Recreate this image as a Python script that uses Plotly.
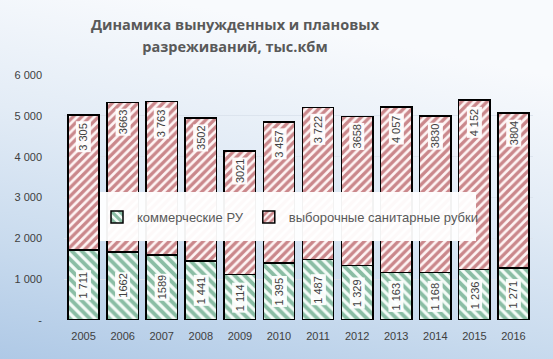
import base64
import plotly.graph_objects as go

years = ["2005", "2006", "2007", "2008", "2009", "2010", "2011", "2012", "2013", "2014", "2015", "2016"]
commercial = [1711, 1662, 1589, 1441, 1114, 1395, 1487, 1329, 1163, 1168, 1236, 1271]
sanitary = [3305, 3663, 3763, 3502, 3021, 3457, 3722, 3658, 4057, 3830, 4152, 3804]
commercial_labels = ["1 711", "1662", "1589", "1 441", "1 114", "1 395", "1 487", "1 329", "1 163", "1 168", "1 236", "1 271"]
sanitary_labels = ["3 305", "3663", "3 763", "3502", "3021", "3 457", "3 722", "3658", "4 057", "3830", "4 152", "3804"]
y_tickvals = [0, 1000, 2000, 3000, 4000, 5000, 6000]
y_ticktext = ["-", "1 000", "2 000", "3 000", "4 000", "5 000", "6 000"]
series_names = ["коммерческие РУ", "выборочные санитарные рубки"]
title_lines = ["Динамика вынужденных и плановых", "разреживаний, тыс.кбм"]

W, H = 553, 359
ML, MR, MT, MB = 64, 20, 75, 39
pw = W - ML - MR
ph = H - MT - MB

fig = go.Figure()
fig.add_trace(go.Bar(
    x=years, y=commercial, name=series_names[0],
    marker=dict(color="#F4FBF7", line=dict(color="#000000", width=1.5),
                pattern=dict(shape="\\", fgcolor="#1F7F52", bgcolor="#F4FBF7", size=7, solidity=0.55)),
))
fig.add_trace(go.Bar(
    x=years, y=sanitary, name=series_names[1],
    marker=dict(color="#FEF4F4", line=dict(color="#000000", width=1.5),
                pattern=dict(shape="/", fgcolor="#961A22", bgcolor="#FEF4F4", size=6, solidity=0.55)),
))

annotations = []
for i, (c, s, cl, sl) in enumerate(zip(commercial, sanitary, commercial_labels, sanitary_labels)):
    annotations.append(dict(x=i, y=c / 2, text=cl, showarrow=False, textangle=-90,
                            xref="x", yref="y", yanchor="middle",
                            font=dict(family="Liberation Sans", size=11, color="#404040"),
                            bgcolor="rgba(255,255,255,0.93)", borderpad=1))
    annotations.append(dict(x=i, y=c + s, text=sl, showarrow=False, textangle=-90,
                            xref="x", yref="y", yanchor="top", yshift=-6,
                            font=dict(family="Liberation Sans", size=11, color="#404040"),
                            bgcolor="rgba(255,255,255,0.93)", borderpad=1))

svg = ('<svg xmlns="http://www.w3.org/2000/svg" width="100" height="100" preserveAspectRatio="none">'
       '<defs><linearGradient id="g" x1="0.3" y1="0" x2="0" y2="1">'
       '<stop offset="0" stop-color="#F8FAFD"/>'
       '<stop offset="0.35" stop-color="#E3ECF6"/>'
       '<stop offset="0.7" stop-color="#C9DBEE"/>'
       '<stop offset="1" stop-color="#AFC9E6"/>'
       '</linearGradient></defs><rect width="100" height="100" fill="url(#g)"/></svg>')
src = "data:image/svg+xml;base64," + base64.b64encode(svg.encode()).decode()

title_text = "<br>".join('<span style="font-size:14.5px">%s</span>' % t for t in title_lines)

fig.update_layout(
    width=W, height=H,
    margin=dict(l=ML, r=MR, t=MT, b=MB),
    barmode="stack", bargap=0.2,
    paper_bgcolor="#F2F6FB", plot_bgcolor="rgba(0,0,0,0)",
    title=dict(text=title_text, x=235 / W, xanchor="center", y=1 - 30 / H, yanchor="top",
               xref="container", yref="container",
               font=dict(family="Open Sans", size=17, color="#595959", weight="bold")),
    images=[dict(source=src, xref="paper", yref="paper", x=-ML / pw, y=1 + MT / ph,
                 sizex=W / pw, sizey=H / ph, sizing="stretch", layer="below",
                 xanchor="left", yanchor="top")],
    shapes=[dict(type="rect", xref="paper", yref="paper",
                 x0=(100 - ML) / pw, x1=(476 - ML) / pw,
                 y0=(H - MB - 241) / ph, y1=(H - MB - 192) / ph,
                 fillcolor="rgba(255,255,255,0.95)", line=dict(width=0), layer="above")],
    legend=dict(orientation="h", x=(97 - ML) / pw, xanchor="left",
                y=(H - MB - 217) / ph, yanchor="middle",
                bgcolor="rgba(0,0,0,0)", itemwidth=30,
                font=dict(family="Liberation Sans", size=13, color="#595959"),
                traceorder="normal"),
    annotations=annotations,
    showlegend=True,
)
fig.update_xaxes(type="category", range=[-0.5, len(years) - 0.5], showgrid=False, showline=False,
                 ticks="", ticklabelstandoff=8,
                 tickfont=dict(family="Liberation Sans", size=11, color="#404040"))
fig.update_yaxes(range=[0, 6000], tickvals=y_tickvals, ticktext=y_ticktext,
                 showgrid=True, gridcolor="#DCE4EE", gridwidth=1, zeroline=False,
                 ticklabelstandoff=21,
                 tickfont=dict(family="Liberation Sans", size=11, color="#404040"))

fig.write_html("out.html", config={"displayModeBar": False},
               post_script="document.body.style.margin='0';document.body.style.overflow='hidden';")
